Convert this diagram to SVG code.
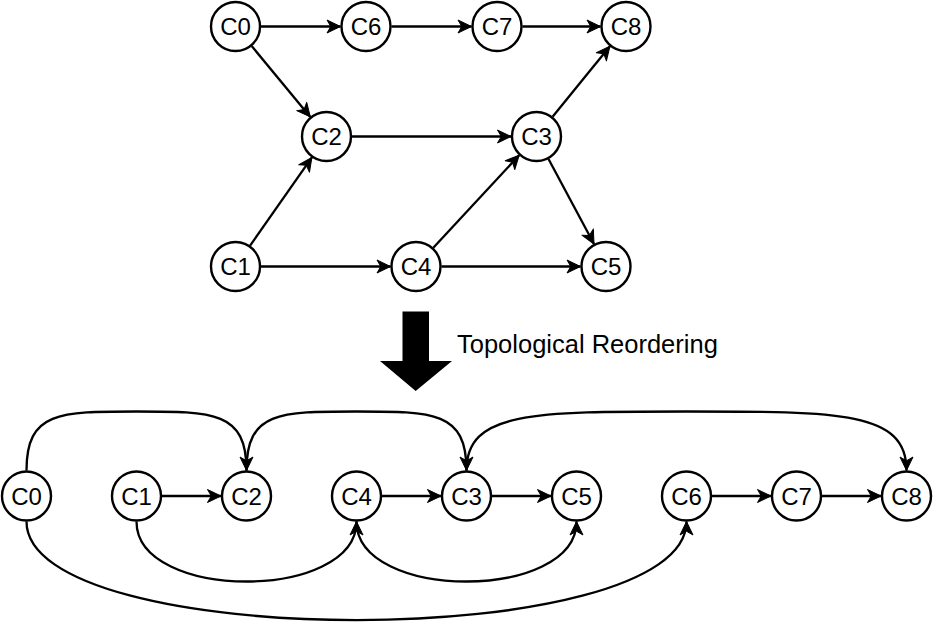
<svg xmlns="http://www.w3.org/2000/svg" width="933" height="623" viewBox="0 0 933 623">
<style>
.n circle{fill:#fff;stroke:#000;stroke-width:2.4}
.n text{font-family:"Liberation Sans",Arial,sans-serif;font-size:24px;text-anchor:middle;fill:#000}
#edges path{fill:none;stroke:#000;stroke-width:2.3;marker-end:url(#arr)}
.lbl{font-family:"Liberation Sans",Arial,sans-serif;font-size:25.5px;fill:#000}
</style>
<defs>
<marker id="arr" viewBox="-1 -1 17 17" markerWidth="17" markerHeight="17" refX="13.5" refY="7" orient="auto" markerUnits="userSpaceOnUse">
<path d="M0,0.5 L13.5,7 L0,13.5 L3.8,7 Z" fill="#000" stroke="#000" stroke-width="1" stroke-linejoin="round"/>
</marker>
</defs>
<rect width="933" height="623" fill="#fff"/>
<g id="edges">
<path d="M261,26.5 L340.5,26.5"/>
<path d="M391.5,26.5 L471.5,26.5"/>
<path d="M522.5,26.5 L600.5,26.5"/>
<path d="M352,136.5 L511,136.5"/>
<path d="M261,266.5 L390.5,266.5"/>
<path d="M441.5,266.5 L580.5,266.5"/>
<path d="M251.7,46.1 L310.3,116.9"/>
<path d="M250.1,245.6 L311.9,157.4"/>
<path d="M433.3,247.8 L519.2,155.2"/>
<path d="M552.6,116.7 L609.9,46.3"/>
<path d="M548.5,159 L594,244"/>
<path d="M162,496 L221,496"/>
<path d="M382,496 L441,496"/>
<path d="M492,496 L551,496"/>
<path d="M712,496 L771,496"/>
<path d="M822,496 L881,496"/>
<path d="M26.5,470.5 C26.5,411.5 59.5,411.5 136.5,411.5 C213.5,411.5 246.5,411.5 246.5,470.5"/>
<path d="M246.5,470.5 C246.5,411.5 279.5,411.5 356.5,411.5 C433.5,411.5 466.5,411.5 466.5,470.5"/>
<path d="M466.5,470.5 C466.5,411.5 532.5,411.5 686.5,411.5 C840.5,411.5 906.5,411.5 906.5,470.5"/>
<path d="M136.5,521.5 C136.5,601.5 356.5,601.5 356.5,521.5"/>
<path d="M356.5,521.5 C356.5,601.5 576.5,601.5 576.5,521.5"/>
<path d="M26.5,521.5 C26.5,653 686.5,653 686.5,521.5"/>
</g>
<g id="top-C0" class="n"><circle cx="235.5" cy="26.5" r="24.5"/><text x="235.5" y="35">C0</text></g>
<g id="top-C6" class="n"><circle cx="366" cy="26.5" r="24.5"/><text x="366" y="35">C6</text></g>
<g id="top-C7" class="n"><circle cx="497" cy="26.5" r="24.5"/><text x="497" y="35">C7</text></g>
<g id="top-C8" class="n"><circle cx="626" cy="26.5" r="24.5"/><text x="626" y="35">C8</text></g>
<g id="top-C2" class="n"><circle cx="326.5" cy="136.5" r="24.5"/><text x="326.5" y="145">C2</text></g>
<g id="top-C3" class="n"><circle cx="536.5" cy="136.5" r="24.5"/><text x="536.5" y="145">C3</text></g>
<g id="top-C1" class="n"><circle cx="235.5" cy="266.5" r="24.5"/><text x="235.5" y="275">C1</text></g>
<g id="top-C4" class="n"><circle cx="416" cy="266.5" r="24.5"/><text x="416" y="275">C4</text></g>
<g id="top-C5" class="n"><circle cx="606" cy="266.5" r="24.5"/><text x="606" y="275">C5</text></g>
<g id="bot-C0" class="n"><circle cx="26.5" cy="496" r="24.5"/><text x="26.5" y="504.5">C0</text></g>
<g id="bot-C1" class="n"><circle cx="136.5" cy="496" r="24.5"/><text x="136.5" y="504.5">C1</text></g>
<g id="bot-C2" class="n"><circle cx="246.5" cy="496" r="24.5"/><text x="246.5" y="504.5">C2</text></g>
<g id="bot-C4" class="n"><circle cx="356.5" cy="496" r="24.5"/><text x="356.5" y="504.5">C4</text></g>
<g id="bot-C3" class="n"><circle cx="466.5" cy="496" r="24.5"/><text x="466.5" y="504.5">C3</text></g>
<g id="bot-C5" class="n"><circle cx="576.5" cy="496" r="24.5"/><text x="576.5" y="504.5">C5</text></g>
<g id="bot-C6" class="n"><circle cx="686.5" cy="496" r="24.5"/><text x="686.5" y="504.5">C6</text></g>
<g id="bot-C7" class="n"><circle cx="796.5" cy="496" r="24.5"/><text x="796.5" y="504.5">C7</text></g>
<g id="bot-C8" class="n"><circle cx="906.5" cy="496" r="24.5"/><text x="906.5" y="504.5">C8</text></g>
<g id="reorder-arrow">
<polygon points="402.5,311.5 429,311.5 429,361 452,361 415.7,391 380,361 402.5,361" fill="#000"/>
<text class="lbl" x="457" y="353">Topological Reordering</text>
</g>
</svg>
